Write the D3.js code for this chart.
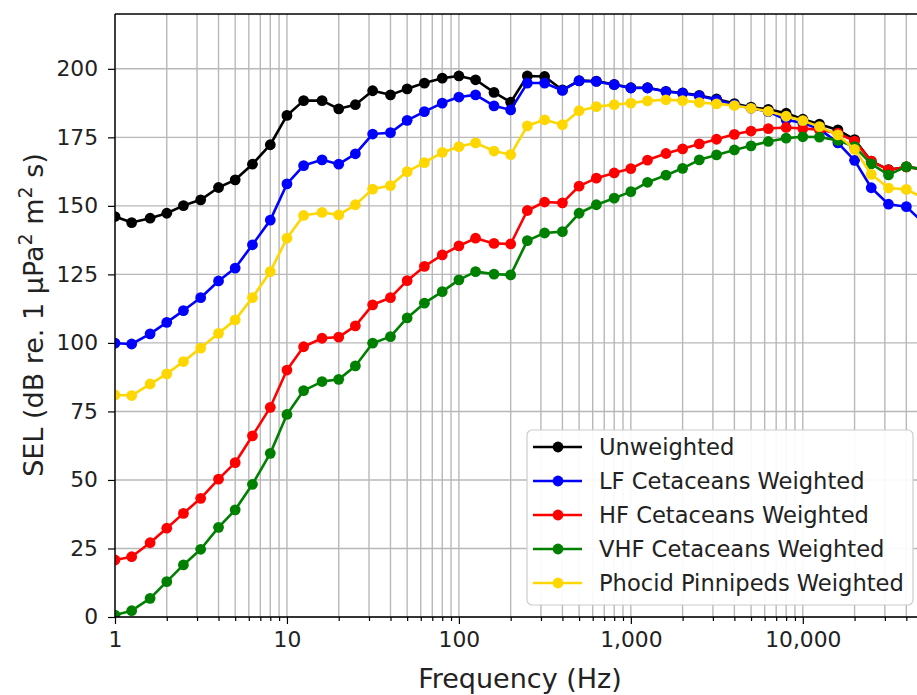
<!DOCTYPE html>
<html>
<head>
<meta charset="utf-8">
<script src="https://cdn.jsdelivr.net/npm/d3@7"></script>
<style>
  body { margin: 0; background: #fff; overflow: hidden; }
  svg { display: block; }
  text { font-family: "DejaVu Sans", sans-serif; }
</style>
</head>
<body>
<svg id="chart" width="917" height="695"></svg>
<script>
// One-third octave band centre frequencies (Hz)
const freqs = [1, 1.25, 1.6, 2, 2.5, 3.15, 4, 5, 6.3, 8, 10, 12.5, 16, 20, 25, 31.5, 40, 50, 63, 80,
  100, 125, 160, 200, 250, 315, 400, 500, 630, 800, 1000, 1250, 1600, 2000, 2500, 3150, 4000, 5000,
  6300, 8000, 10000, 12500, 16000, 20000, 25000, 31500, 40000, 50000];

// SEL per band, dB re 1 µPa² m² s
const unweighted = [146.1, 143.9, 145.5, 147.3, 150.1, 152.2, 156.7, 159.5, 165.2, 172.3, 183.0, 188.4,
  188.4, 185.4, 186.9, 192.0, 190.5, 192.7, 194.8, 196.6, 197.4, 196.0, 191.4, 187.8, 197.4, 197.2,
  192.3, 195.7, 195.5, 194.3, 193.1, 193.1, 191.8, 191.2, 190.3, 189.0, 187.3, 186.0, 185.2, 183.8,
  181.6, 179.8, 177.7, 174.2, 166.3, 163.2, 164.2, 163.4];
const lfCetaceans = [99.9, 99.6, 103.3, 107.5, 111.8, 116.5, 122.6, 127.3, 135.8, 144.8, 158.0, 164.7,
  166.8, 165.2, 169.0, 176.2, 176.7, 181.2, 184.4, 187.5, 189.7, 190.5, 186.5, 185.0, 194.8, 194.8,
  192.1, 195.6, 195.4, 194.2, 193.0, 193.0, 191.7, 191.1, 190.1, 188.7, 186.9, 185.6, 184.4, 181.4,
  180.2, 178.0, 173.0, 166.6, 156.6, 150.6, 149.7, 144.0];
const hfCetaceans = [20.8, 22.0, 27.1, 32.4, 37.8, 43.3, 50.3, 56.3, 66.1, 76.5, 90.1, 98.6,
  101.7, 102.1, 106.2, 113.9, 116.5, 122.7, 127.9, 132.1, 135.4, 138.2, 136.3, 136.1, 148.3, 151.4,
  151.1, 157.2, 160.1, 162.0, 163.6, 166.7, 169.1, 170.8, 172.6, 174.3, 176.1, 177.3, 178.2, 178.6,
  178.2, 177.8, 176.5, 173.6, 166.3, 163.1, 164.2, 163.4];
const vhfCetaceans = [0.7, 2.3, 6.8, 12.9, 19.0, 24.7, 32.7, 39.1, 48.4, 59.7, 73.9, 82.6,
  85.9, 86.7, 91.6, 99.9, 102.3, 109.1, 114.5, 118.7, 123.0, 126.0, 125.1, 124.8, 137.3, 140.1,
  140.6, 147.3, 150.4, 152.8, 155.2, 158.6, 161.2, 163.7, 166.8, 168.6, 170.4, 171.9, 173.5, 174.7,
  175.2, 175.1, 173.9, 171.6, 165.3, 161.3, 164.3, 163.3];
const phocidPinnipeds = [81.0, 80.8, 85.0, 88.7, 93.2, 98.1, 103.5, 108.4, 116.5, 126.0, 138.2, 146.5,
  147.6, 146.7, 150.4, 156.1, 157.4, 162.5, 165.8, 169.5, 171.6, 173.0, 170.0, 168.7, 179.2, 181.4,
  179.6, 184.7, 186.2, 186.9, 187.5, 188.3, 188.7, 188.4, 187.7, 187.2, 186.6, 185.6, 184.5, 182.7,
  181.1, 178.9, 175.9, 170.6, 161.5, 156.5, 156.0, 153.0];

const seriesNames = ["Unweighted", "LF Cetaceans Weighted", "HF Cetaceans Weighted",
  "VHF Cetaceans Weighted", "Phocid Pinnipeds Weighted"];
const seriesValues = [unweighted, lfCetaceans, hfCetaceans, vhfCetaceans, phocidPinnipeds];
const seriesColors = ["#000000", "#0000ff", "#ff0000", "#008000", "#ffd700"];

const yTicks = [0, 25, 50, 75, 100, 125, 150, 175, 200];
const xMajorTicks = [1, 10, 100, 1000, 10000];
const xTickLabels = ["1", "10", "100", "1,000", "10,000"];

// Plot frame
const L = 115, T = 14, R = 923, B = 617;
const x = d3.scaleLog().domain([1, 50000]).range([L, R]);
const y = d3.scaleLinear().domain([0, 220]).range([B, T]);

const svg = d3.select("#chart");

svg.append("defs").append("clipPath").attr("id", "plotclip")
  .append("rect").attr("x", L).attr("y", T).attr("width", R - L).attr("height", B - T);

// Grid: major + minor verticals, horizontal at y ticks
const grid = svg.append("g").attr("stroke", "#b8b8b8").attr("stroke-width", 1.4);
grid.selectAll("line.v").data(x.ticks()).join("line")
  .attr("x1", d => x(d)).attr("x2", d => x(d)).attr("y1", T).attr("y2", B);
grid.selectAll("line.h").data(yTicks).join("line")
  .attr("x1", L).attr("x2", R).attr("y1", d => y(d)).attr("y2", d => y(d));

// Series lines and markers
const plot = svg.append("g").attr("clip-path", "url(#plotclip)");
const line = d3.line().x(d => x(d.f)).y(d => y(d.v));
seriesValues.forEach((vals, i) => {
  const pts = freqs.map((f, j) => ({ f, v: vals[j] }));
  const g = plot.append("g");
  g.append("path").datum(pts).attr("d", line)
    .attr("fill", "none").attr("stroke", seriesColors[i]).attr("stroke-width", 2.6)
    .attr("stroke-linejoin", "round");
  g.selectAll("circle").data(pts).join("circle")
    .attr("cx", d => x(d.f)).attr("cy", d => y(d.v)).attr("r", 5.4)
    .attr("fill", seriesColors[i]);
});

// Axes
const yAxis = svg.append("g").attr("transform", `translate(${L},0)`)
  .call(d3.axisLeft(y).tickValues(yTicks).tickSize(7).tickPadding(10).tickFormat(d3.format("d")));
const xAxis = svg.append("g").attr("transform", `translate(0,${B})`)
  .call(d3.axisBottom(x).tickValues(x.ticks()).tickSize(7).tickPadding(8)
    .tickFormat(d => { const k = xMajorTicks.indexOf(d); return k >= 0 ? xTickLabels[k] : ""; }));
xAxis.selectAll(".tick").filter(d => xMajorTicks.indexOf(d) < 0).select("line").attr("y2", 4);

[yAxis, xAxis].forEach(a => {
  a.select(".domain").remove();
  a.selectAll(".tick line").attr("stroke", "#000").attr("stroke-width", 1.2);
  a.selectAll(".tick text").attr("font-size", 21.8).attr("fill", "#222")
    .attr("font-family", "DejaVu Sans, sans-serif");
});

// Spines
const spines = svg.append("g").attr("stroke", "#000").attr("stroke-width", 1.4).attr("fill", "none");
spines.append("line").attr("x1", L).attr("x2", L).attr("y1", T).attr("y2", B);
spines.append("line").attr("x1", L).attr("x2", R).attr("y1", B).attr("y2", B);
spines.append("line").attr("x1", L).attr("x2", R).attr("y1", T).attr("y2", T);
spines.append("line").attr("x1", R).attr("x2", R).attr("y1", T).attr("y2", B);

// Axis titles
svg.append("text").attr("x", 520).attr("y", 688).attr("text-anchor", "middle")
  .attr("font-size", 27).attr("fill", "#222").text("Frequency (Hz)");

const yl = svg.append("text").attr("transform", "translate(43,315) rotate(-90)")
  .attr("text-anchor", "middle").attr("font-size", 27).attr("fill", "#222");
yl.append("tspan").text("SEL (dB re. 1 µPa");
yl.append("tspan").attr("font-size", 19).attr("dy", -11).text("2");
yl.append("tspan").attr("dy", 11).text(" m");
yl.append("tspan").attr("font-size", 19).attr("dy", -11).text("2");
yl.append("tspan").attr("dy", 11).text(" s)");

// Legend
const lg = svg.append("g");
lg.append("rect").attr("x", 527).attr("y", 430).attr("width", 386).attr("height", 175)
  .attr("rx", 5).attr("fill", "#fff").attr("fill-opacity", 0.92)
  .attr("stroke", "#cccccc").attr("stroke-width", 1.2);
const rowY = d3.scaleLinear().domain([0, 4]).range([447, 583]);
seriesNames.forEach((name, i) => {
  const ry = rowY(i);
  lg.append("line").attr("x1", 533).attr("x2", 582).attr("y1", ry).attr("y2", ry)
    .attr("stroke", seriesColors[i]).attr("stroke-width", 2.6);
  lg.append("circle").attr("cx", 558).attr("cy", ry).attr("r", 5.4).attr("fill", seriesColors[i]);
  lg.append("text").attr("x", 599).attr("y", ry + 8).attr("font-size", 22.6).attr("fill", "#222").text(name);
});
</script>
</body>
</html>
